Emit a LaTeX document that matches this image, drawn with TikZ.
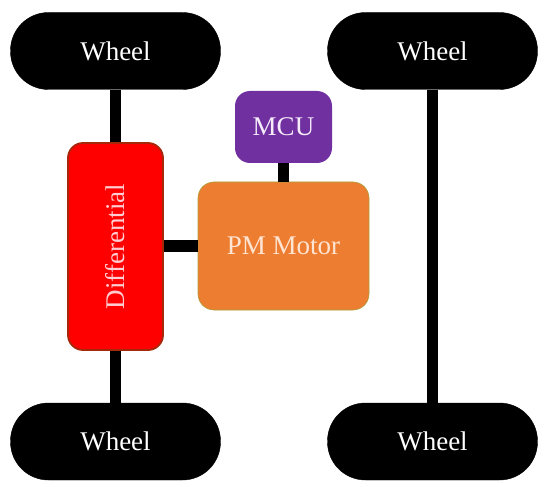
\documentclass[tikz,border=0pt]{standalone}
\usepackage{fontspec}
\setmainfont{Liberation Serif}
\definecolor{diffred}{RGB}{255,0,0}
\definecolor{diffborder}{RGB}{165,40,10}
\definecolor{difftext}{RGB}{255,205,210}
\definecolor{motororange}{RGB}{237,125,49}
\definecolor{motorborder}{RGB}{170,160,60}
\definecolor{motortext}{RGB}{255,228,210}
\definecolor{mcupurple}{RGB}{112,48,160}
\definecolor{mcutext}{RGB}{245,235,250}
\tikzset{
  bigfont/.style={font=\fontsize{27}{32}\selectfont},
  wheelbox/.style={draw=black, fill=black, text=white, bigfont, rounded corners=38pt,
    minimum width=210pt, minimum height=77pt, inner sep=0pt},
  diffbox/.style={draw=diffborder, line width=1.8pt, fill=diffred, text=difftext, bigfont,
    rounded corners=15pt, minimum width=95pt, minimum height=207pt, inner sep=0pt},
  mcubox/.style={fill=mcupurple, text=mcutext, bigfont, rounded corners=15pt,
    minimum width=97pt, minimum height=72pt, inner sep=0pt},
  motorbox/.style={draw=motorborder, line width=0.6pt, fill=motororange, text=motortext, bigfont,
    rounded corners=16pt, minimum width=171pt, minimum height=128pt, inner sep=0pt},
  shaft/.style={line width=11pt, black}
}
\begin{document}
\begin{tikzpicture}[x=1pt,y=-1pt]
\useasboundingbox (0,0) rectangle (550,487);
\node[wheelbox] (wTL) at (115.5,51) {Wheel};
\node[wheelbox] (wTR) at (432.5,51) {Wheel};
\node[wheelbox] (wBL) at (115.5,441.5) {Wheel};
\node[wheelbox] (wBR) at (432.5,441.5) {Wheel};
\node[diffbox] (diff) at (115.5,246.5) {};
\node[rotate=90, text=difftext, bigfont] (difflabel) at (diff.center) {Differential};
\node[mcubox] (mcu) at (283.5,127) {MCU};
\node[motorbox] (motor) at (283.5,246) {PM Motor};
\draw[shaft] (wTL.south) -- (diff.north);
\draw[shaft] (diff.south) -- (wBL.north);
\draw[shaft] (diff.east |- motor.west) -- (motor.west);
\draw[shaft] (mcu.south) -- (motor.north);
\draw[shaft] (wTR.south) -- (wBR.north);
\end{tikzpicture}
\end{document}
